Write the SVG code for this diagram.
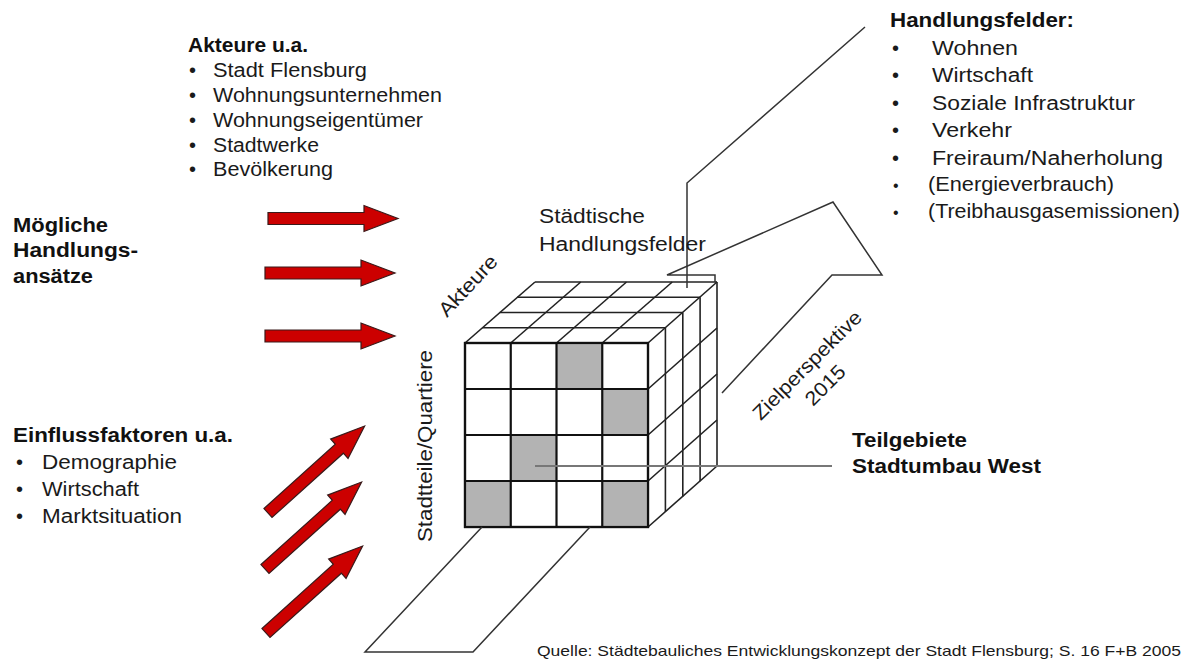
<svg xmlns="http://www.w3.org/2000/svg" width="1187" height="662" viewBox="0 0 1187 662">
<style>
text{font-family:"Liberation Sans",Arial,sans-serif;fill:#1a1a1a}
.r{font-size:20px}
.b{font-size:20px;font-weight:bold;fill:#111}
.s{font-size:15px}
.ln{fill:none;stroke:#333;stroke-width:1.5;stroke-linejoin:miter}
.cube{fill:none;stroke:#222;stroke-width:1.6}
.front{stroke:#111;stroke-width:2.2;fill:#fff}
.gray{fill:#b3b3b3}
.red{fill:#cc0000;stroke:#3a1a1a;stroke-width:1.2;stroke-linejoin:miter}
</style>
<defs>
<path id="arr" d="M0,-6 H96 V-13 L130,0 L96,13 V6 H0 Z"/>
</defs>
<rect width="1187" height="662" fill="#fff"/>

<g id="red-arrows">
  <use href="#arr" class="red" transform="translate(268,218.5)"/>
  <use href="#arr" class="red" transform="translate(265,273)"/>
  <use href="#arr" class="red" transform="translate(265,336)"/>
  <use href="#arr" class="red" transform="translate(268,513) rotate(-42)"/>
  <use href="#arr" class="red" transform="translate(265,569) rotate(-42)"/>
  <use href="#arr" class="red" transform="translate(266,633) rotate(-42)"/>
</g>

<g id="cube">
  <polygon points="465,343 648,343 717,282 535,282" fill="#fff"/>
  <polygon points="648,343 717,282 717,466 648,527" fill="#fff"/>
  <g class="cube">
    <line x1="465" y1="343" x2="648" y2="343"/>
    <line x1="482.4" y1="327.75" x2="665.4" y2="327.75"/>
    <line x1="499.8" y1="312.5" x2="682.8" y2="312.5"/>
    <line x1="517.1" y1="297.25" x2="700.1" y2="297.25"/>
    <line x1="535" y1="282" x2="717" y2="282"/>
    <line x1="465" y1="343" x2="535" y2="282"/>
    <line x1="510.75" y1="343" x2="580.75" y2="282"/>
    <line x1="556.5" y1="343" x2="626.5" y2="282"/>
    <line x1="602.25" y1="343" x2="672.25" y2="282"/>
    <line x1="648" y1="343" x2="717" y2="282"/>
    <line x1="665.4" y1="327.75" x2="665.4" y2="511.75"/>
    <line x1="682.8" y1="312.5" x2="682.8" y2="496.5"/>
    <line x1="700.1" y1="297.25" x2="700.1" y2="481.25"/>
    <line x1="717" y1="282" x2="717" y2="466"/>
    <line x1="648" y1="389" x2="717" y2="328"/>
    <line x1="648" y1="435" x2="717" y2="374"/>
    <line x1="648" y1="481" x2="717" y2="420"/>
    <line x1="648" y1="527" x2="717" y2="466"/>
  </g>
  <g id="front-face">
    <rect class="front" x="465" y="343" width="183" height="184"/>
    <rect class="gray" x="556.5" y="343" width="45.75" height="46"/>
    <rect class="gray" x="602.25" y="389" width="45.75" height="46"/>
    <rect class="gray" x="510.75" y="435" width="45.75" height="46"/>
    <rect class="gray" x="465" y="481" width="45.75" height="46"/>
    <rect class="gray" x="602.25" y="481" width="45.75" height="46"/>
    <g stroke="#111" stroke-width="2.2" fill="none">
      <rect x="465" y="343" width="183" height="184"/>
      <line x1="510.75" y1="343" x2="510.75" y2="527"/>
      <line x1="556.5" y1="343" x2="556.5" y2="527"/>
      <line x1="602.25" y1="343" x2="602.25" y2="527"/>
      <line x1="465" y1="389" x2="648" y2="389"/>
      <line x1="465" y1="435" x2="648" y2="435"/>
      <line x1="465" y1="481" x2="648" y2="481"/>
    </g>
  </g>
</g>

<g id="connectors">
  <polyline class="ln" points="865,27 687,183 687,288"/>
  <polyline class="ln" points="715,282 715,275 667,275 833,202 882,275 832,275 722,393"/>
  <polyline class="ln" points="482,527 365,652 473,652 590,527"/>
  <line x1="535" y1="466" x2="832" y2="466" stroke="#777" stroke-width="1.8"/>
</g>

<g id="akteure-list">
  <text class="b" x="188" y="52" textLength="120" lengthAdjust="spacingAndGlyphs">Akteure u.a.</text>
  <text class="r" x="189" y="77">•</text>
  <text class="r" x="213" y="77" textLength="154" lengthAdjust="spacingAndGlyphs">Stadt Flensburg</text>
  <text class="r" x="189" y="102">•</text>
  <text class="r" x="213" y="102" textLength="229" lengthAdjust="spacingAndGlyphs">Wohnungsunternehmen</text>
  <text class="r" x="189" y="126.5">•</text>
  <text class="r" x="213" y="126.5" textLength="210" lengthAdjust="spacingAndGlyphs">Wohnungseigentümer</text>
  <text class="r" x="189" y="151.5">•</text>
  <text class="r" x="213" y="151.5" textLength="106" lengthAdjust="spacingAndGlyphs">Stadtwerke</text>
  <text class="r" x="189" y="176">•</text>
  <text class="r" x="213" y="176" textLength="120" lengthAdjust="spacingAndGlyphs">Bevölkerung</text>
</g>

<g id="moegliche">
  <text class="b" x="13" y="232" textLength="95" lengthAdjust="spacingAndGlyphs">Mögliche</text>
  <text class="b" x="13" y="257" textLength="125" lengthAdjust="spacingAndGlyphs">Handlungs-</text>
  <text class="b" x="13" y="283" textLength="80" lengthAdjust="spacingAndGlyphs">ansätze</text>
</g>

<g id="einfluss">
  <text class="b" x="13" y="442" textLength="220" lengthAdjust="spacingAndGlyphs">Einflussfaktoren u.a.</text>
  <text class="r" x="16" y="469">•</text>
  <text class="r" x="42" y="469" textLength="135" lengthAdjust="spacingAndGlyphs">Demographie</text>
  <text class="r" x="16" y="496">•</text>
  <text class="r" x="42" y="496" textLength="97" lengthAdjust="spacingAndGlyphs">Wirtschaft</text>
  <text class="r" x="16" y="523">•</text>
  <text class="r" x="42" y="523" textLength="140" lengthAdjust="spacingAndGlyphs">Marktsituation</text>
</g>

<g id="handlungsfelder">
  <text class="b" x="890" y="27" textLength="184" lengthAdjust="spacingAndGlyphs">Handlungsfelder:</text>
  <text class="r" x="892" y="55">•</text>
  <text class="r" x="932" y="55" textLength="86" lengthAdjust="spacingAndGlyphs">Wohnen</text>
  <text class="r" x="892" y="82">•</text>
  <text class="r" x="932" y="82" textLength="101" lengthAdjust="spacingAndGlyphs">Wirtschaft</text>
  <text class="r" x="892" y="110">•</text>
  <text class="r" x="932" y="110" textLength="203" lengthAdjust="spacingAndGlyphs">Soziale Infrastruktur</text>
  <text class="r" x="892" y="137">•</text>
  <text class="r" x="932" y="137" textLength="80" lengthAdjust="spacingAndGlyphs">Verkehr</text>
  <text class="r" x="892" y="165">•</text>
  <text class="r" x="932" y="165" textLength="231" lengthAdjust="spacingAndGlyphs">Freiraum/Naherholung</text>
  <text class="r" x="893" y="191" style="font-size:16px">•</text>
  <text class="r" x="928" y="191" textLength="186" lengthAdjust="spacingAndGlyphs">(Energieverbrauch)</text>
  <text class="r" x="893" y="218" style="font-size:16px">•</text>
  <text class="r" x="928" y="218" textLength="252" lengthAdjust="spacingAndGlyphs">(Treibhausgasemissionen)</text>
</g>

<g id="cube-labels">
  <text class="r" x="539" y="223" textLength="106" lengthAdjust="spacingAndGlyphs">Städtische</text>
  <text class="r" x="539" y="251" textLength="167" lengthAdjust="spacingAndGlyphs">Handlungsfelder</text>
  <text class="r" transform="translate(447,318) rotate(-47)" textLength="76" lengthAdjust="spacingAndGlyphs">Akteure</text>
  <text class="r" transform="translate(432,542) rotate(-90)" textLength="192" lengthAdjust="spacingAndGlyphs">Stadtteile/Quartiere</text>
  <text class="r" text-anchor="middle" transform="translate(812,370) rotate(-45)" textLength="145" lengthAdjust="spacingAndGlyphs">Zielperspektive</text>
  <text class="r" text-anchor="middle" transform="translate(830,390) rotate(-45)" textLength="48" lengthAdjust="spacingAndGlyphs">2015</text>
</g>

<g id="teilgebiete">
  <text class="b" x="852" y="447" textLength="115" lengthAdjust="spacingAndGlyphs">Teilgebiete</text>
  <text class="b" x="852" y="473" textLength="189" lengthAdjust="spacingAndGlyphs">Stadtumbau West</text>
</g>

<text class="s" x="537" y="656" textLength="644" lengthAdjust="spacingAndGlyphs">Quelle: Städtebauliches Entwicklungskonzept der Stadt Flensburg; S. 16 F+B 2005</text>
</svg>
